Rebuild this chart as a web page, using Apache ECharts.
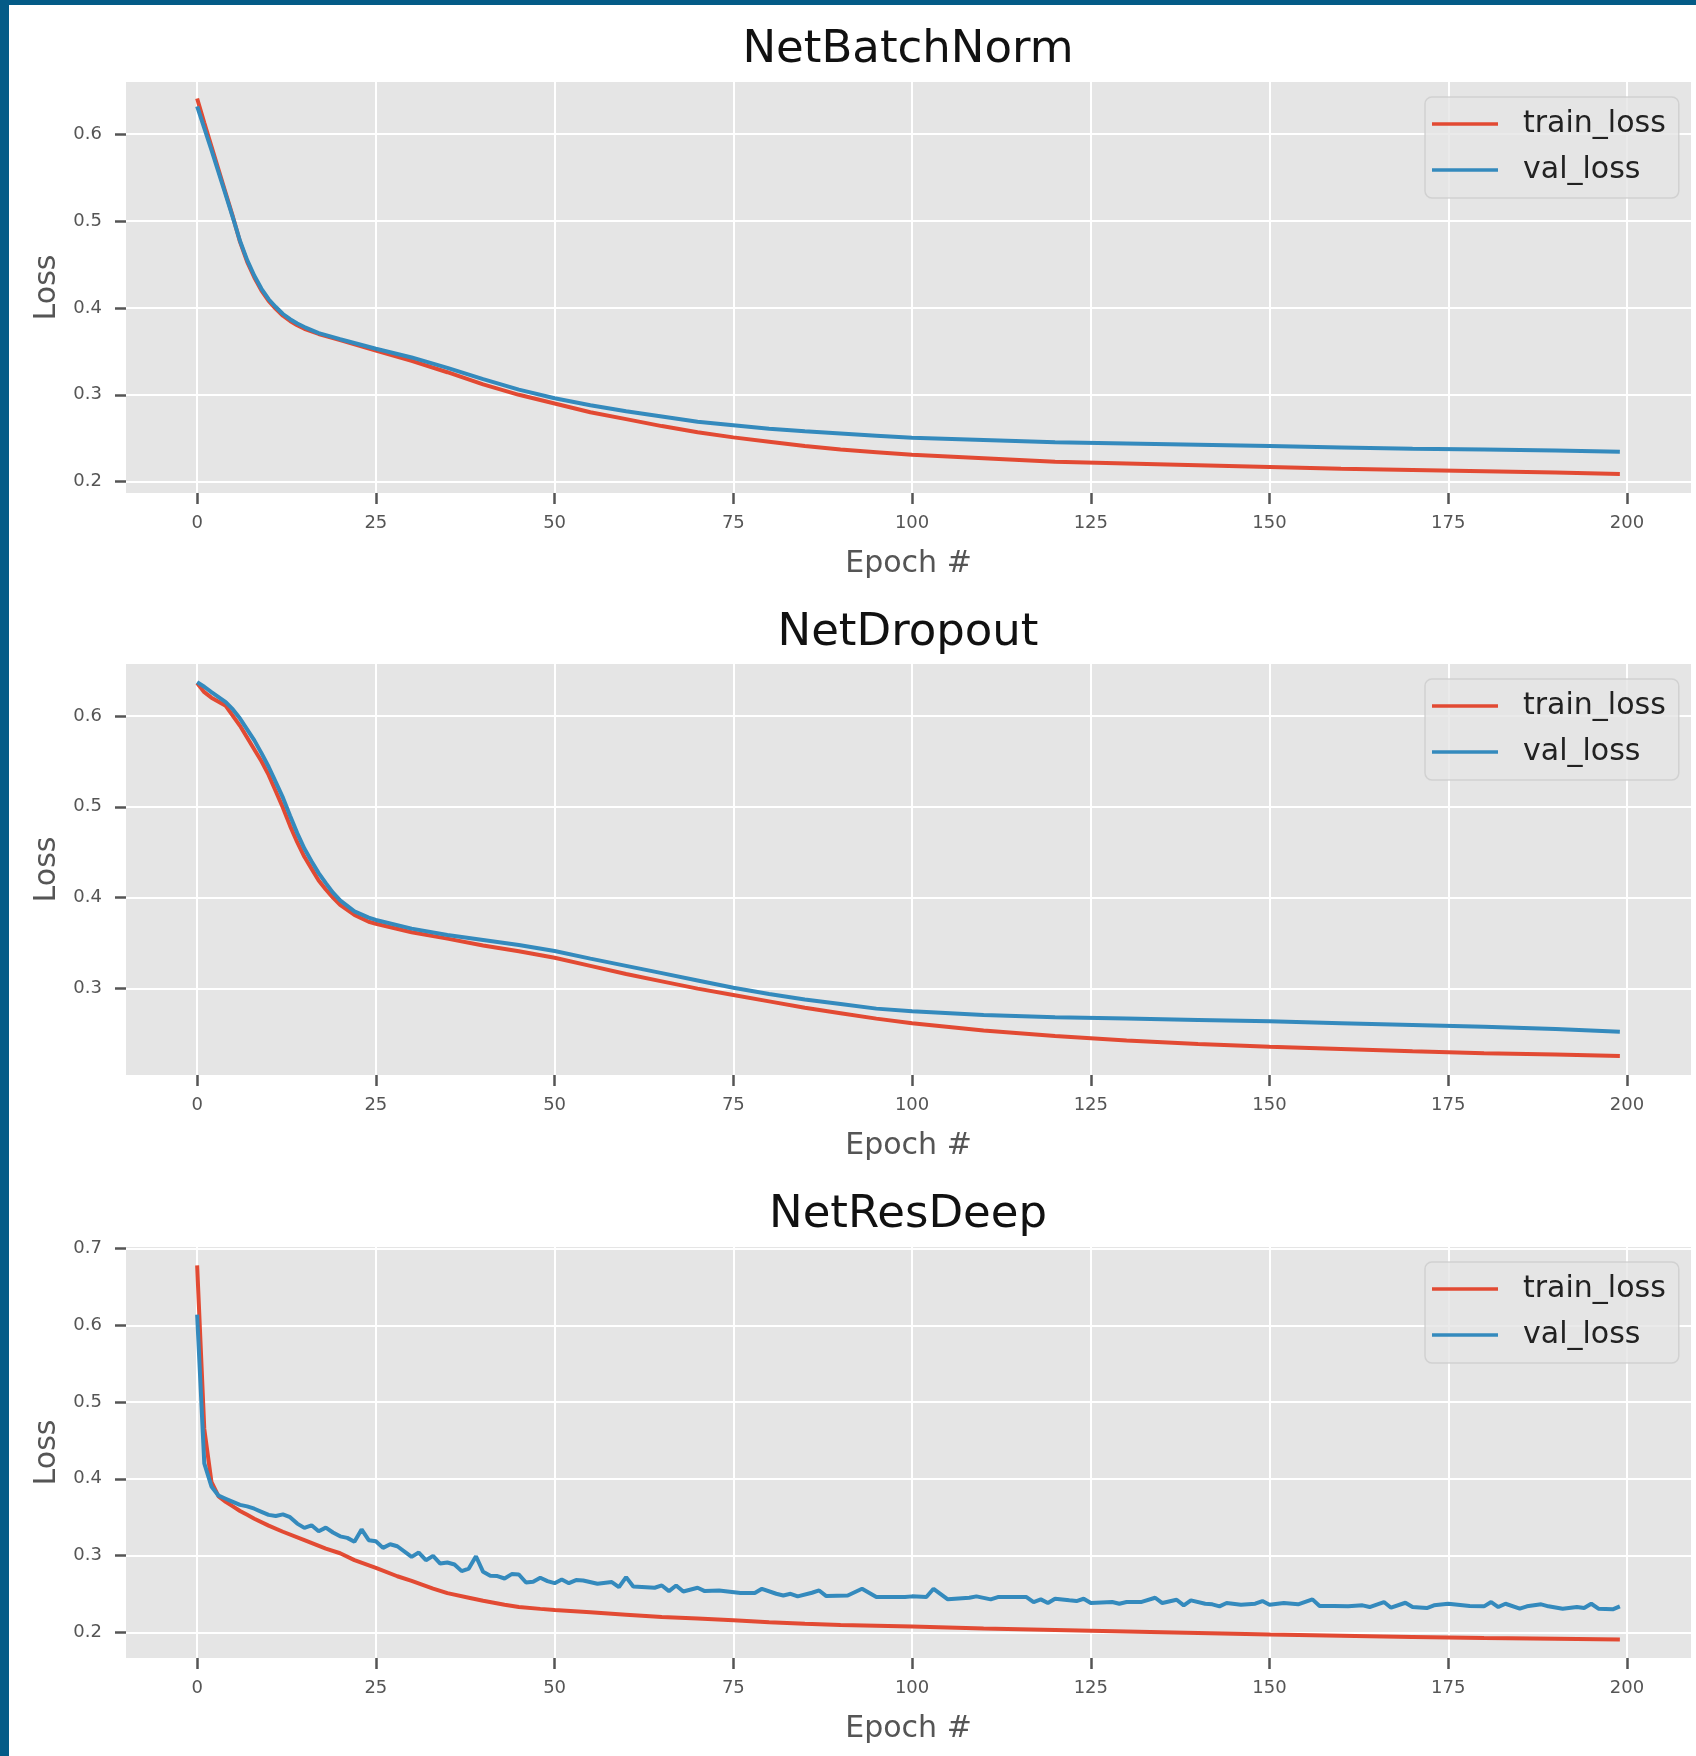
<!DOCTYPE html>
<html>
<head>
    <meta charset="utf-8">
    <title>Loss curves</title>
    <script src="https://cdn.jsdelivr.net/npm/echarts@6.0.0/dist/echarts.min.js"></script>
    <style>
        body { margin: 0; background: #fff; }
        #chart { position: absolute; left: 0; top: 0; width: 1696px; height: 1756px; }
        .frame-left { position: absolute; left: 0; top: 0; width: 9px; height: 1756px; background: #045b87; }
        .frame-top { position: absolute; left: 0; top: 0; width: 1696px; height: 5px; background: #045b87; }
    </style>
</head>
<body>
    <div id="chart"></div>
    <div class="frame-left"></div>
    <div class="frame-top"></div>
    <script>
        // ---- data ----
        const titles = ['NetBatchNorm', 'NetDropout', 'NetResDeep'];
        const xTicks = [0, 25, 50, 75, 100, 125, 150, 175, 200];

        // NetBatchNorm
        const epochsBN = [0, 1, 2, 3, 4, 5, 6, 7, 8, 9, 10, 11, 12, 13, 14, 15, 17, 20, 25, 30, 35, 40, 45, 50,
            55, 60, 65, 70, 75, 80, 85, 90, 95, 100, 110, 120, 130, 140, 150, 160, 170, 180, 190, 199];
        const trainBN = [0.641, 0.613, 0.586, 0.559, 0.532, 0.505, 0.476, 0.453, 0.435, 0.420, 0.408, 0.399, 0.391, 0.385, 0.380, 0.376,
            0.370, 0.363, 0.351, 0.339, 0.326, 0.312, 0.300, 0.290, 0.280, 0.272, 0.264, 0.257, 0.251, 0.246, 0.241, 0.237, 0.234, 0.231,
            0.227, 0.223, 0.221, 0.219, 0.217, 0.215, 0.2135, 0.212, 0.2105, 0.209];
        const valBN = [0.632, 0.607, 0.582, 0.556, 0.530, 0.504, 0.477, 0.455, 0.437, 0.422, 0.410, 0.401, 0.393, 0.387, 0.382, 0.378,
            0.371, 0.364, 0.353, 0.343, 0.331, 0.318, 0.306, 0.296, 0.288, 0.281, 0.275, 0.269, 0.265, 0.261, 0.258, 0.2555, 0.253, 0.2505,
            0.248, 0.2455, 0.244, 0.2425, 0.241, 0.2395, 0.238, 0.237, 0.236, 0.2345];

        // NetDropout
        const epochsDO = [0, 1, 2, 4, 5, 6, 8, 9, 10, 11, 12, 13, 14, 15, 16, 17, 18, 19, 20, 22, 24, 25,
            30, 35, 40, 45, 50, 55, 60, 65, 70, 75, 80, 85, 90, 95, 100, 110, 120, 130, 140, 150, 160, 170, 180, 190, 199];
        const trainDO = [0.636, 0.626, 0.620, 0.611, 0.600, 0.589, 0.563, 0.550, 0.535, 0.517, 0.499, 0.479, 0.461, 0.445, 0.432,
            0.419, 0.409, 0.400, 0.392, 0.381, 0.3735, 0.3714, 0.362, 0.355, 0.3475, 0.341, 0.334, 0.325, 0.316, 0.308, 0.300,
            0.293, 0.286, 0.279, 0.273, 0.267, 0.262, 0.254, 0.248, 0.243, 0.239, 0.236, 0.2335, 0.231, 0.229, 0.2275, 0.226];
        const valDO = [0.637, 0.632, 0.626, 0.615, 0.607, 0.597, 0.573, 0.559, 0.544, 0.527, 0.510, 0.490, 0.471, 0.454, 0.440,
            0.427, 0.416, 0.4055, 0.397, 0.385, 0.378, 0.3755, 0.366, 0.359, 0.3535, 0.348, 0.3414, 0.333, 0.325, 0.317, 0.309,
            0.301, 0.294, 0.288, 0.283, 0.278, 0.275, 0.271, 0.2685, 0.267, 0.2655, 0.264, 0.262, 0.260, 0.258, 0.2555, 0.2525];

        // NetResDeep
        const epochsResTrain = [0, 1, 2, 3, 4, 5, 6, 7, 8, 10, 12, 15, 18, 20, 22, 25, 28, 30, 33, 35, 38, 40, 43, 45, 48, 50,
            55, 60, 65, 70, 75, 80, 85, 90, 95, 100, 110, 120, 130, 140, 150, 160, 170, 180, 190, 199];
        const trainRes = [0.678, 0.465, 0.396, 0.377, 0.370, 0.364, 0.358, 0.353, 0.348, 0.339, 0.331, 0.320, 0.309, 0.303, 0.294,
            0.284, 0.273, 0.267, 0.257, 0.251, 0.245, 0.241, 0.236, 0.233, 0.2305, 0.229, 0.226, 0.223, 0.220, 0.218, 0.2156,
            0.213, 0.211, 0.2095, 0.2085, 0.2075, 0.205, 0.203, 0.201, 0.199, 0.197, 0.1955, 0.194, 0.1925, 0.1915, 0.1905];
        const epochsResVal = [
            0, 1, 2, 3, 4, 5, 6, 7, 8, 9,
            10, 11, 12, 13, 14, 15, 16, 17, 18, 19,
            20, 21, 22, 23, 24, 25, 26, 27, 28, 30,
            31, 32, 33, 34, 35, 36, 37, 38, 39, 40,
            41, 42, 43, 44, 45, 46, 47, 48, 49, 50,
            51, 52, 53, 54, 56, 58, 59, 60, 61, 64,
            65, 66, 67, 68, 70, 71, 73, 76, 78, 79,
            81, 82, 83, 84, 86, 87, 88, 91, 93, 95,
            96, 99, 100, 102, 103, 105, 106, 108, 109, 111,
            112, 114, 116, 117, 118, 119, 120, 122, 123, 124,
            125, 128, 129, 130, 132, 134, 135, 137, 138, 139,
            141, 142, 143, 144, 146, 148, 149, 150, 152, 154,
            156, 157, 159, 161, 163, 164, 166, 167, 169, 170,
            172, 173, 175, 178, 180, 181, 182, 183, 185, 186,
            188, 189, 191, 193, 194, 195, 196, 198, 199];
        const valRes = [
            0.614, 0.420, 0.390, 0.378, 0.374, 0.370, 0.366, 0.364, 0.361, 0.357,
            0.353, 0.3515, 0.3537, 0.350, 0.3416, 0.336, 0.3394, 0.3316, 0.3364, 0.330,
            0.325, 0.323, 0.318, 0.334, 0.320, 0.3186, 0.310, 0.3147, 0.3121, 0.2983,
            0.3039, 0.2939, 0.2996, 0.2896, 0.2909, 0.2883, 0.2797, 0.2831, 0.2991, 0.2788,
            0.2736, 0.2732, 0.2701, 0.2758, 0.2753, 0.2649, 0.2658, 0.271, 0.2667, 0.264,
            0.2688, 0.264, 0.268, 0.2675, 0.2632, 0.2654, 0.2589, 0.2719, 0.2597, 0.258,
            0.261, 0.2537, 0.261, 0.2532, 0.258, 0.2537, 0.2545, 0.2511, 0.2511, 0.2567,
            0.2502, 0.248, 0.2502, 0.2468, 0.2515, 0.2545, 0.2472, 0.248, 0.2567, 0.2459,
            0.2459, 0.246, 0.2468, 0.2459, 0.2567, 0.2429, 0.2437, 0.245, 0.2468, 0.2429,
            0.2459, 0.2459, 0.2459, 0.2394, 0.2429, 0.2381, 0.2437, 0.2416, 0.2407, 0.2437,
            0.2381, 0.2394, 0.2372, 0.2394, 0.2394, 0.245, 0.2381, 0.2424, 0.235, 0.2416,
            0.2372, 0.2364, 0.2338, 0.2381, 0.2359, 0.2372, 0.2407, 0.2359, 0.2381, 0.2364,
            0.2429, 0.2342, 0.2342, 0.2338, 0.2351, 0.2329, 0.2394, 0.232, 0.2385, 0.2329,
            0.2316, 0.2351, 0.2372, 0.2342, 0.2338, 0.2394, 0.2329, 0.2372, 0.2307, 0.2338,
            0.2364, 0.2338, 0.2307, 0.2329, 0.2316, 0.2372, 0.2307, 0.2299, 0.2338];

        const yTicks = [[0.2, 0.3, 0.4, 0.5, 0.6], [0.3, 0.4, 0.5, 0.6], [0.2, 0.3, 0.4, 0.5, 0.6, 0.7]];
        const yRanges = [[0.187, 0.660], [0.205, 0.657], [0.1665, 0.702]];
        const xRange = [-9.95, 208.95];

        // ---- layout ----
        const FONT = "'DejaVu Sans', sans-serif";
        const TRAIN = '#E24A33', VAL = '#348ABD';
        const gridTops = [82, 664, 1247];
        const titleY = [50, 633, 1215];
        const legendTops = [97, 679, 1262];

        const panels = [
            { train: [epochsBN, trainBN], val: [epochsBN, valBN] },
            { train: [epochsDO, trainDO], val: [epochsDO, valDO] },
            { train: [epochsResTrain, trainRes], val: [epochsResVal, valRes] }
        ];

        function zip(xs, ys) {
            return xs.map((x, k) => [x, ys[k]]);
        }

        const option = {
            animation: false,
            textStyle: { fontFamily: FONT },
            title: [], grid: [], xAxis: [], yAxis: [], legend: [], series: []
        };

        panels.forEach((p, i) => {
            option.title.push({
                text: titles[i], left: 908, top: titleY[i], padding: 0,
                textAlign: 'center', textVerticalAlign: 'middle',
                textStyle: { fontSize: 45, fontWeight: 'normal', color: '#111', fontFamily: FONT }
            });
            option.grid.push({
                left: 126, right: 5, top: gridTops[i], height: 411,
                show: true, backgroundColor: '#E5E5E5', borderWidth: 0,
                outerBoundsMode: 'none'
            });
            option.xAxis.push({
                type: 'value', gridIndex: i, min: xRange[0], max: xRange[1],
                axisLine: { show: false, onZero: false },
                axisTick: { show: true, customValues: xTicks, length: 11, lineStyle: { color: '#555', width: 2.5 } },
                axisLabel: { customValues: xTicks, color: '#555', fontSize: 18, margin: 21, fontFamily: FONT },
                splitLine: { show: true, lineStyle: { color: '#fff', width: 2 } },
                name: 'Epoch #', nameLocation: 'middle', nameGap: 56,
                nameTextStyle: { fontSize: 30, color: '#555', fontFamily: FONT }
            });
            option.yAxis.push({
                type: 'value', gridIndex: i, min: yRanges[i][0], max: yRanges[i][1],
                axisLine: { show: false, onZero: false },
                axisTick: { show: true, customValues: yTicks[i], length: 11, lineStyle: { color: '#555', width: 2.5 } },
                axisLabel: { customValues: yTicks[i], formatter: v => v.toFixed(1), color: '#555', fontSize: 18, margin: 24, fontFamily: FONT },
                splitLine: { show: true, lineStyle: { color: '#fff', width: 2 } },
                name: 'Loss', nameLocation: 'middle', nameGap: 63, nameRotate: 90,
                nameTextStyle: { fontSize: 30, color: '#555', fontFamily: FONT }
            });
            option.legend.push({
                orient: 'vertical', left: 1425, top: legendTops[i],
                data: ['train_loss', 'val_loss'], selectedMode: false,
                icon: 'rect', itemWidth: 66, itemHeight: 3.5, itemGap: 12,
                padding: [10, 13, 11, 7],
                backgroundColor: 'rgba(229,229,229,0.8)', borderColor: 'rgba(204,204,204,0.8)',
                borderWidth: 1.5, borderRadius: 7,
                textStyle: { fontSize: 30, color: '#222', fontFamily: FONT, padding: [0, 0, 0, 20], lineHeight: 34 }
            });
            option.series.push({
                type: 'line', name: 'train_loss', xAxisIndex: i, yAxisIndex: i,
                data: zip(p.train[0], p.train[1]), showSymbol: false, symbol: 'none',
                lineStyle: { color: TRAIN, width: 4 }, itemStyle: { color: TRAIN }
            });
            option.series.push({
                type: 'line', name: 'val_loss', xAxisIndex: i, yAxisIndex: i,
                data: zip(p.val[0], p.val[1]), showSymbol: false, symbol: 'none',
                lineStyle: { color: VAL, width: 4 }, itemStyle: { color: VAL }
            });
        });

        const chart = echarts.init(document.getElementById('chart'));
        chart.setOption(option);
    </script>
</body>
</html>
